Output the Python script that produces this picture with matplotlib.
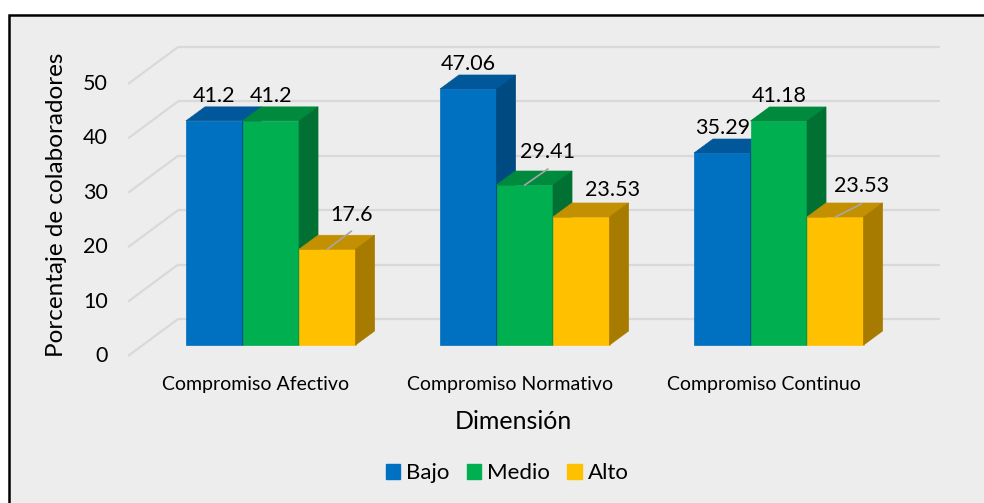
import numpy as np
import matplotlib
matplotlib.use("Agg")
import matplotlib.pyplot as plt
from matplotlib.patches import Polygon, Rectangle

plt.rcParams["font.family"] = ["Lato", "DejaVu Sans"]

# ── Data ─────────────────────────────────────────────────────────────
categories = ["Compromiso Afectivo", "Compromiso Normativo", "Compromiso Continuo"]
series = ["Bajo", "Medio", "Alto"]
bajo = [41.2, 47.06, 35.29]
medio = [41.2, 29.41, 41.18]
alto = [17.6, 23.53, 23.53]
y_ticks = [0, 10, 20, 30, 40, 50]

# front / top / side shades for each series
COLORS = {
    "Bajo":  ("#0070C0", "#00589B", "#004A82"),
    "Medio": ("#00B050", "#008A3E", "#007133"),
    "Alto":  ("#FFC000", "#C29000", "#A67B00"),
}

# ── Fake-3D geometry (pixels -> data units) ──────────────────────────
PX_X = 254.0   # pixels per category step
PX_Y = 5.44    # pixels per percentage point


def px(dx, dy):
    return dx / PX_X, dy / PX_Y


BAR_W = 56.5 / PX_X
DEPTH = px(19, 14)        # depth of each bar
FRONT = px(-15, -11)      # front plane relative to bar faces
BACK = px(35, 26)         # back wall relative to bar faces
WALL_X0 = -0.562          # left end of the front plane
WALL_X1 = 2.635           # right end of the back wall

# label offsets (pixels) for labels that were moved by hand, with leader line
LABEL_MOVED = {
    (0, 2): (24.5, 34.5, (24, 18)),
    (1, 1): (23, 33, (23, 16)),
    (1, 2): (31, 27, None),
    (2, 2): (26, 31.5, (26, 13)),
}

fig = plt.figure(figsize=(9.84, 5.03), dpi=100)
fig.patch.set_facecolor("white")
fig.patches.append(Rectangle((8.5 / 984, -0.1), 1.2, 1.1 - 15.5 / 503,
                             transform=fig.transFigure, facecolor="#EDEDED",
                             edgecolor="black", linewidth=1.8, zorder=-5))

ax = fig.add_axes([0, 0, 1, 1])
ax.set_xlim(-1.066, 2.808)
ax.set_ylim(-29.04, 63.42)
ax.axis("off")
ax.patch.set_alpha(0)

grid_kw = dict(color="#D9D9D9", linewidth=1.6, zorder=1, solid_capstyle="butt")
back_x0 = WALL_X0 + BACK[0] - FRONT[0]
for t in y_ticks:
    ax.plot([back_x0, WALL_X1], [t + BACK[1], t + BACK[1]], **grid_kw)
    ax.plot([WALL_X0, back_x0], [t + FRONT[1], t + BACK[1]], **grid_kw)
    ax.text(-0.641, t + FRONT[1], str(t), ha="right", va="center",
            fontsize=15.5, color="black")

values = [bajo, medio, alto]
z = 2
for i in range(len(categories)):
    for j, name in enumerate(series):
        v = values[j][i]
        front, top, side = COLORS[name]
        x0 = i - 1.5 * BAR_W + j * BAR_W
        x1 = x0 + BAR_W
        dx, dy = DEPTH
        ax.bar(x0, v, width=BAR_W, align="edge", color=front,
               edgecolor=front, linewidth=0.5, zorder=z)
        ax.add_patch(Polygon([(x0, v), (x1, v), (x1 + dx, v + dy), (x0 + dx, v + dy)],
                             closed=True, facecolor=top, edgecolor=top,
                             linewidth=0.5, zorder=z))
        ax.add_patch(Polygon([(x1, 0), (x1 + dx, dy), (x1 + dx, v + dy), (x1, v)],
                             closed=True, facecolor=side, edgecolor=side,
                             linewidth=0.5, zorder=z))
        z += 1

        cx = x0 + BAR_W / 2
        if (i, j) in LABEL_MOVED:
            ox, oy, lead = LABEL_MOVED[(i, j)]
            lx, ly = px(ox, oy)
            if lead is not None:
                ex, ey = px(*lead)
                ax.plot([cx, cx + ex], [v, v + ey], color="#A6A6A6",
                        linewidth=1.2, zorder=40)
        else:
            lx, ly = px(0, 25)
        ax.text(cx + lx, v + ly, f"{v:g}", ha="center", va="center",
                fontsize=15.5, color="black", zorder=50)

for i, cat in enumerate(categories):
    ax.text(i + FRONT[0], -7.17, cat, ha="center", va="center",
            fontsize=14, color="black")

ax.text(0.954, -14.15, "Dimensión", ha="center", va="center",
        fontsize=18, color="black")
ax.text(-0.845, 25.7, "Porcentaje de colaboradores", ha="center", va="center",
        rotation=90, fontsize=17.5, color="black")

handles = [Rectangle((0, 0), 1, 1, color=COLORS[s][0]) for s in series]
fig.legend(handles, series, loc="center", bbox_to_anchor=(507 / 984, 1 - 473 / 503),
           ncol=3, frameon=False, fontsize=16, handlelength=0.65, handleheight=0.65,
           handletextpad=0.25, columnspacing=0.8)

fig.savefig("out.png", dpi=100, facecolor=fig.get_facecolor())
